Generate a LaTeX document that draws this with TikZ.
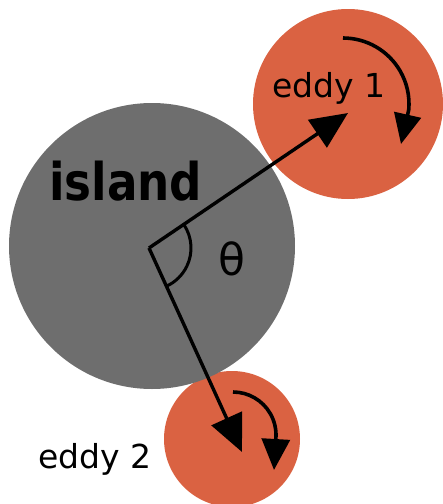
\documentclass[tikz,border=0pt]{standalone}
\usepackage{fontspec}
\setmainfont{DejaVu Sans}
\usetikzlibrary{arrows.meta}
\definecolor{islandgray}{RGB}{110,110,110}
\definecolor{eddyorange}{RGB}{218,98,66}
\begin{document}
\begin{tikzpicture}[x=1pt,y=-1pt,
  disc/.style={circle,inner sep=0pt,draw=none},
  vec/.style={line width=3.4pt,-{Triangle[length=37pt,width=33pt]}},
  spin/.style={line width=3.6pt,-{Triangle[length=30pt,width=27pt]}},
  lbl/.style={inner sep=0pt,anchor=base west,font=\fontsize{33}{33}\selectfont}]
\useasboundingbox (0,0) rectangle (443,504);
% discs
\node[disc,fill=eddyorange,minimum size=190pt] (eddy1) at (348,104) {};
\node[disc,fill=eddyorange,minimum size=136pt] (eddy2) at (232,439) {};
\node[disc,fill=islandgray,minimum size=286pt] (island) at (152,246) {};
% labels
\node[inner sep=0pt,anchor=base west] (islandlbl) at (49,200)
  {\scalebox{0.87}[1]{\fontsize{52}{52}\selectfont\bfseries island}};
\node[lbl] (e1lbl) at (272,97) {eddy 1};
\node[lbl] (e2lbl) at (38,468) {eddy 2};
\node[inner sep=0pt] (theta) at (232,259) {\fontsize{44}{44}\selectfont θ};
% vectors
\coordinate (O) at (149,248);
\coordinate (t1) at (348,113);
\coordinate (t2) at (242,452);
\draw[vec] (O) -- (t1);
\draw[vec] (O) -- (t2);
\draw[line width=3pt] (O) ++(-34:42) arc[start angle=-34,end angle=65.5,radius=42];
% spin arrows
\coordinate (s1) at (343,38);
\coordinate (s1tip) at (401,144);
\draw[spin] (s1) arc[start angle=-90,end angle=5,radius=66] -- (s1tip);
\coordinate (s2) at (233,392);
\coordinate (s2tip) at (274,470);
\draw[spin,-{Triangle[length=31pt,width=28pt]}] (s2) arc[start angle=-90,end angle=2,radius=43] -- (s2tip);
\end{tikzpicture}
\end{document}
